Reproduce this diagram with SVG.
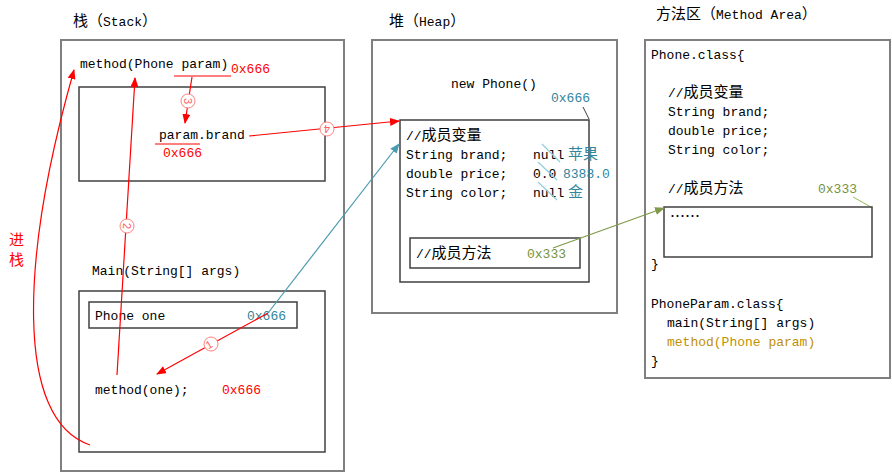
<svg xmlns="http://www.w3.org/2000/svg" width="892" height="473" viewBox="0 0 892 473">
<defs>
<style>
text{font-family:"Liberation Mono","Noto Sans CJK SC",monospace;font-size:13px;fill:#000}
.cjk{font-family:"Noto Sans CJK SC","Liberation Sans",sans-serif;font-size:15px}
.title{font-size:13px}
.red{fill:#ff0000}
.teal{fill:#31859c}
.olive{fill:#76923c}
.gold{fill:#bf9000}
.outer{fill:#fff;stroke:#7f7f7f;stroke-width:2}
.inner{fill:#fff;stroke:#404040;stroke-width:1.5}
.conn{fill:none;stroke-width:1.2}
.lab circle{fill:#fff;stroke:#ff8080;stroke-width:1}
.lab text{font-family:"Liberation Sans",sans-serif;font-size:11px;fill:#ff6060;text-anchor:middle}
</style>
<marker id="ar" viewBox="0 0 10 8" refX="9" refY="4" markerWidth="10" markerHeight="8" markerUnits="userSpaceOnUse" orient="auto"><path d="M0,0L10,4L0,8Z" fill="#ff0000"/></marker>
<marker id="at" viewBox="0 0 10 8" refX="9" refY="4" markerWidth="10" markerHeight="8" markerUnits="userSpaceOnUse" orient="auto"><path d="M0,0L10,4L0,8Z" fill="#4a9bb0"/></marker>
<marker id="ao" viewBox="0 0 10 8" refX="9" refY="4" markerWidth="10" markerHeight="8" markerUnits="userSpaceOnUse" orient="auto"><path d="M0,0L10,4L0,8Z" fill="#7f9a48"/></marker>
</defs>
<rect width="892" height="473" fill="#fff"/>

<g id="titles">
<text x="73" y="26"><tspan class="cjk">栈（</tspan>Stack<tspan class="cjk">）</tspan></text>
<text x="389" y="26"><tspan class="cjk">堆（</tspan>Heap<tspan class="cjk">）</tspan></text>
<text x="656" y="19"><tspan class="cjk">方法区（</tspan>Method Area<tspan class="cjk">）</tspan></text>
<text x="9" y="245" class="cjk red">进</text>
<text x="9" y="265" class="cjk red">栈</text>
</g>

<g id="stack">
<rect class="outer" x="61" y="40" width="283" height="431"/>
</g>
<g id="method-frame">
<text x="80" y="68">method(Phone param)</text>
<text x="231" y="73" class="red">0x666</text>
<line x1="174" y1="76" x2="231" y2="76" stroke="#ff0000" stroke-width="1.2"/>
<rect class="inner" x="79" y="87" width="246" height="94"/>
<text x="159" y="139">param.brand</text>
<line x1="155" y1="144" x2="200" y2="144" stroke="#ff0000" stroke-width="1.2"/>
<text x="163" y="157" class="red">0x666</text>
</g>
<g id="main-frame">
<text x="92" y="275">Main(String[] args)</text>
<rect class="inner" x="79" y="291" width="246" height="161"/>
<rect class="inner" x="89" y="302" width="208" height="26"/>
<text x="95" y="320">Phone one</text>
<text x="247" y="320" class="teal">0x666</text>
<text x="95" y="394">method(one);</text>
<text x="222" y="394" class="red">0x666</text>
</g>

<g id="heap">
<rect class="outer" x="372" y="40" width="245" height="273"/>
<text x="451" y="88">new Phone()</text>
<text x="551" y="102" class="teal">0x666</text>
<line x1="583" y1="107" x2="589" y2="119" stroke="#404040" stroke-width="1"/>
</g>
<g id="phone-object">
<rect class="inner" x="400" y="120" width="189" height="162"/>
<text x="406" y="140">//<tspan class="cjk">成员变量</tspan></text>
<text x="406" y="159">String brand;</text>
<text x="533" y="159">null</text>
<text x="568" y="159" class="cjk teal">苹果</text>
<text x="406" y="178">double price;</text>
<text x="533" y="178">0.0</text>
<text x="563" y="178" class="teal">8388.0</text>
<text x="406" y="197">String color;</text>
<text x="533" y="197">null</text>
<text x="568" y="197" class="cjk teal">金</text>
<g stroke="#92cddc" stroke-width="1.2">
<line x1="542" y1="144" x2="560" y2="162"/>
<line x1="538" y1="162" x2="557" y2="180"/>
<line x1="538" y1="182" x2="557" y2="200"/>
</g>
<rect class="inner" x="410" y="238" width="170" height="30"/>
<text x="416" y="258">//<tspan class="cjk">成员方法</tspan></text>
<text x="527" y="258" class="olive">0x333</text>
</g>

<g id="method-area">
<rect class="outer" x="645" y="40" width="245" height="338"/>
<text x="651" y="59">Phone.class{</text>
<text x="668" y="97">//<tspan class="cjk">成员变量</tspan></text>
<text x="668" y="116">String brand;</text>
<text x="668" y="135">double price;</text>
<text x="668" y="154">String color;</text>
<text x="668" y="193">//<tspan class="cjk">成员方法</tspan></text>
<text x="818" y="193" class="olive">0x333</text>
<line x1="853" y1="197" x2="871" y2="207" stroke="#9bbb59" stroke-width="1"/>
<rect class="inner" x="664" y="207" width="208" height="50"/>
<text x="670" y="222" class="cjk">……</text>
<text x="651" y="268">}</text>
<text x="651" y="308">PhoneParam.class{</text>
<text x="667" y="327">main(String[] args)</text>
<text x="667" y="346" class="gold">method(Phone param)</text>
<text x="651" y="365">}</text>
</g>

<g id="connectors">
<path class="conn" d="M90,445 C15,420 20,260 74,70" stroke="#ff0000" marker-end="url(#ar)"/>
<line class="conn" x1="268" y1="313" x2="399" y2="144" stroke="#4a9bb0" marker-end="url(#at)"/>
<line class="conn" x1="268" y1="313" x2="157" y2="374" stroke="#ff0000" marker-end="url(#ar)"/>
<line class="conn" x1="117" y1="375" x2="135" y2="78" stroke="#ff0000" marker-end="url(#ar)"/>
<line class="conn" x1="192" y1="77" x2="185" y2="123" stroke="#ff0000" marker-end="url(#ar)"/>
<line class="conn" x1="249" y1="136" x2="399" y2="121" stroke="#ff0000" marker-end="url(#ar)"/>
<line class="conn" x1="553" y1="248" x2="664" y2="208" stroke="#7f9a48" marker-end="url(#ao)"/>
<g class="lab"><circle cx="211" cy="344" r="7"/><text transform="translate(211,348) rotate(-30)">1</text></g>
<g class="lab"><circle cx="127" cy="226" r="7"/><text transform="translate(127,226) rotate(90) translate(0,4)">2</text></g>
<g class="lab"><circle cx="188" cy="101" r="7"/><text transform="translate(188,101) rotate(90) translate(0,4)">3</text></g>
<g class="lab"><circle cx="327" cy="129" r="7"/><text transform="translate(327,129) rotate(180) translate(0,4)">4</text></g>
</g>
</svg>
